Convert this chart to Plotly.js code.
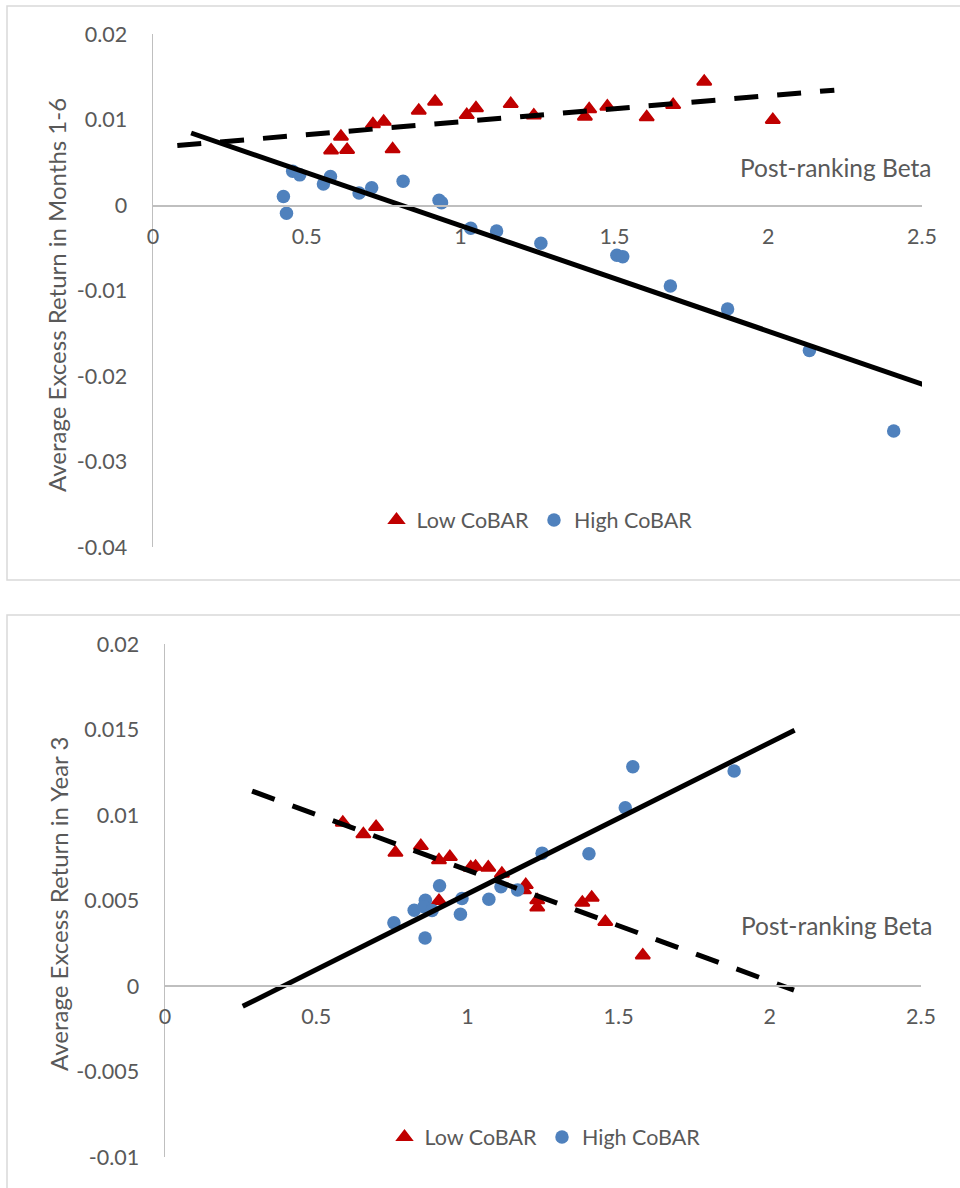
<!DOCTYPE html>
<html><head><meta charset="utf-8">
<script src="https://cdn.plot.ly/plotly-3.0.1.min.js"></script>
<style>html,body{margin:0;padding:0;background:#fff}</style>
</head><body><div id="chart" style="width:960px;height:1188px"></div>
<script>
// ---- Top panel: Months 1-6 ----
const lowBeta1 = [0.579,0.611,0.631,0.715,0.750,0.779,0.864,0.917,1.020,1.050,1.163,1.238,1.404,1.418,1.477,1.605,1.691,1.792,2.015];
const lowRet1  = [0.00642,0.00803,0.00648,0.00948,0.00979,0.00656,0.01108,0.01213,0.01057,0.01136,0.01186,0.01052,0.01037,0.01124,0.01155,0.01030,0.01174,0.01447,0.00999];
const highBeta1 = [0.424,0.434,0.454,0.477,0.554,0.577,0.670,0.711,0.813,0.930,0.938,1.033,1.117,1.261,1.508,1.527,1.682,1.868,2.134,2.408];
const highRet1  = [0.00103,-0.00094,0.00397,0.00355,0.00247,0.00335,0.00144,0.00203,0.00280,0.00059,0.00030,-0.00269,-0.00301,-0.00445,-0.00585,-0.00602,-0.00945,-0.01214,-0.01700,-0.02643];
// ---- Bottom panel: Year 3 ----
const lowBeta2 = [0.588,0.656,0.698,0.762,0.846,0.906,0.942,1.011,1.027,1.069,1.114,1.193,1.187,1.231,1.231,0.906,1.380,1.411,1.456,1.580];
const lowRet2  = [0.00957,0.00889,0.00932,0.00781,0.00820,0.00737,0.00756,0.00694,0.00699,0.00694,0.00658,0.00592,0.00561,0.00503,0.00460,0.00499,0.00489,0.00518,0.00376,0.00180];
const highBeta2 = [0.757,0.824,0.861,0.856,0.883,0.860,0.908,0.982,0.977,1.071,1.111,1.166,1.247,1.402,1.522,1.547,1.882];
const highRet2  = [0.00370,0.00444,0.00502,0.00464,0.00443,0.00281,0.00587,0.00513,0.00420,0.00508,0.00581,0.00563,0.00778,0.00774,0.01043,0.01284,0.01259];

const seriesNames = ['Low CoBAR','High CoBAR'];
const yTitles = ['Average Excess Return in Months 1-6','Average Excess Return in Year 3'];
const xTitle = 'Post-ranking Beta';
const xTickVals = [0,0.5,1,1.5,2,2.5];
const xTickText = ['0','0.5','1','1.5','2','2.5'];
const yTickVals1 = [-0.04,-0.03,-0.02,-0.01,0,0.01,0.02];
const yTickText1 = ['-0.04','-0.03','-0.02','-0.01','0','0.01','0.02'];
const yTickVals2 = [-0.01,-0.005,0,0.005,0.01,0.015,0.02];
const yTickText2 = ['-0.01','-0.005','0','0.005','0.01','0.015','0.02'];

// Excel-style linear trendline with backward/forward forecast
function trend(xs, ys, back, fwd) {
  const n = xs.length;
  const mx = xs.reduce((a,b)=>a+b,0)/n, my = ys.reduce((a,b)=>a+b,0)/n;
  let sxy = 0, sxx = 0;
  for (let i = 0; i < n; i++) { sxy += (xs[i]-mx)*(ys[i]-my); sxx += (xs[i]-mx)*(xs[i]-mx); }
  const b = sxy/sxx, a = my - b*mx;
  const x0 = Math.min(...xs) - back, x1 = Math.max(...xs) + fwd;
  return {x: [x0, x1], y: [a + b*x0, a + b*x1]};
}

const W = 960, H = 1188;
const fx = p => p / W;
const fy = p => 1 - p / H;

const RED = '#C00000', BLUE = '#4F81BD', TXT = '#595959', AX = '#BFBFBF';
const FONT = 'Lato, "Open Sans", sans-serif';

const t1L = trend(lowBeta1, lowRet1, 0.5, 0.2);
const t1H = trend(highBeta1, highRet1, 0.3, 0.1);
const t2L = trend(lowBeta2, lowRet2, 0.3, 0.5);
const t2H = trend(highBeta2, highRet2, 0.5, 0.2);

const triMarker = {symbol: 'triangle-up', size: 12.5, color: RED, line: {width: 2, color: RED}};
const dotMarker = {symbol: 'circle', size: 13.5, color: BLUE, line: {width: 0}};
const dashLine = {color: '#000', width: 5, dash: '24px,19px'};
const solidLine = {color: '#000', width: 5};

const data = [
  {x: lowBeta1, y: lowRet1, type: 'scatter', mode: 'markers', name: seriesNames[0], marker: triMarker, xaxis: 'x', yaxis: 'y', legend: 'legend'},
  {x: highBeta1, y: highRet1, type: 'scatter', mode: 'markers', name: seriesNames[1], marker: dotMarker, xaxis: 'x', yaxis: 'y', legend: 'legend'},
  {x: t1L.x, y: t1L.y, type: 'scatter', mode: 'lines', line: dashLine, showlegend: false, xaxis: 'x', yaxis: 'y', hoverinfo: 'skip'},
  {x: t1H.x, y: t1H.y, type: 'scatter', mode: 'lines', line: solidLine, showlegend: false, xaxis: 'x', yaxis: 'y', hoverinfo: 'skip'},

  {x: lowBeta2, y: lowRet2, type: 'scatter', mode: 'markers', name: seriesNames[0], marker: triMarker, xaxis: 'x2', yaxis: 'y2', legend: 'legend2'},
  {x: highBeta2, y: highRet2, type: 'scatter', mode: 'markers', name: seriesNames[1], marker: dotMarker, xaxis: 'x2', yaxis: 'y2', legend: 'legend2'},
  {x: t2L.x, y: t2L.y, type: 'scatter', mode: 'lines', line: dashLine, showlegend: false, xaxis: 'x2', yaxis: 'y2', hoverinfo: 'skip'},
  {x: t2H.x, y: t2H.y, type: 'scatter', mode: 'lines', line: solidLine, showlegend: false, xaxis: 'x2', yaxis: 'y2', hoverinfo: 'skip'}
];

const tickFont = {family: FONT, size: 21.5, color: TXT};
function xAxis(domain, posPx) {
  return {domain: domain, range: [0, 2.5], anchor: 'free', position: fy(posPx),
    tickvals: xTickVals, ticktext: xTickText, tickfont: tickFont,
    showline: true, linecolor: AX, linewidth: 1.5, showgrid: false, zeroline: false,
    ticks: '', ticklabelstandoff: 11, fixedrange: true};
}
function yAxis(domain, range, vals, text, anchor) {
  return {domain: domain, range: range, anchor: anchor,
    tickvals: vals, ticktext: text, tickfont: tickFont,
    showline: true, linecolor: AX, linewidth: 1.5, showgrid: false, zeroline: false,
    ticks: '', ticklabelstandoff: 20, fixedrange: true};
}

const legendBase = {orientation: 'h', xanchor: 'center', yanchor: 'middle',
  font: {family: FONT, size: 21.5, color: TXT}, bgcolor: 'rgba(0,0,0,0)', itemwidth: 30, traceorder: 'normal'};

const layout = {
  width: W, height: H, margin: {l: 0, r: 0, t: 0, b: 0},
  paper_bgcolor: '#fff', plot_bgcolor: 'rgba(0,0,0,0)',
  font: {family: FONT, color: TXT},
  xaxis: xAxis([fx(153), fx(922)], 205.3),
  yaxis: yAxis([fy(547), fy(34.3)], [-0.04, 0.02], yTickVals1, yTickText1, 'x'),
  xaxis2: xAxis([fx(165), fx(921)], 985.3),
  yaxis2: yAxis([fy(1157), fy(644.3)], [-0.01, 0.02], yTickVals2, yTickText2, 'x2'),
  legend: Object.assign({}, legendBase, {x: fx(537), y: fy(520)}),
  legend2: Object.assign({}, legendBase, {x: fx(545), y: fy(1137)}),
  shapes: [
    {type: 'rect', xref: 'paper', yref: 'paper', x0: fx(7), x1: fx(975), y0: fy(580), y1: fy(6), line: {color: '#D9D9D9', width: 1.5}, fillcolor: 'rgba(0,0,0,0)', layer: 'below'},
    {type: 'rect', xref: 'paper', yref: 'paper', x0: fx(7), x1: fx(975), y0: fy(1200), y1: fy(615), line: {color: '#D9D9D9', width: 1.5}, fillcolor: 'rgba(0,0,0,0)', layer: 'below'}
  ],
  annotations: [
    {text: yTitles[0], xref: 'paper', yref: 'paper', x: fx(57), y: fy(295), textangle: -90, showarrow: false, xanchor: 'center', yanchor: 'middle', font: {family: FONT, size: 24, color: TXT}},
    {text: yTitles[1], xref: 'paper', yref: 'paper', x: fx(58), y: fy(904), textangle: -90, showarrow: false, xanchor: 'center', yanchor: 'middle', font: {family: FONT, size: 24, color: TXT}},
    {text: xTitle, xref: 'paper', yref: 'paper', x: fx(934), y: fy(167), showarrow: false, xanchor: 'right', yanchor: 'middle', font: {family: FONT, size: 24.5, color: TXT}},
    {text: xTitle, xref: 'paper', yref: 'paper', x: fx(935), y: fy(926), showarrow: false, xanchor: 'right', yanchor: 'middle', font: {family: FONT, size: 24.5, color: TXT}}
  ]
};

Plotly.newPlot('chart', data, layout, {displayModeBar: false, staticPlot: true});
</script>
</body></html>
